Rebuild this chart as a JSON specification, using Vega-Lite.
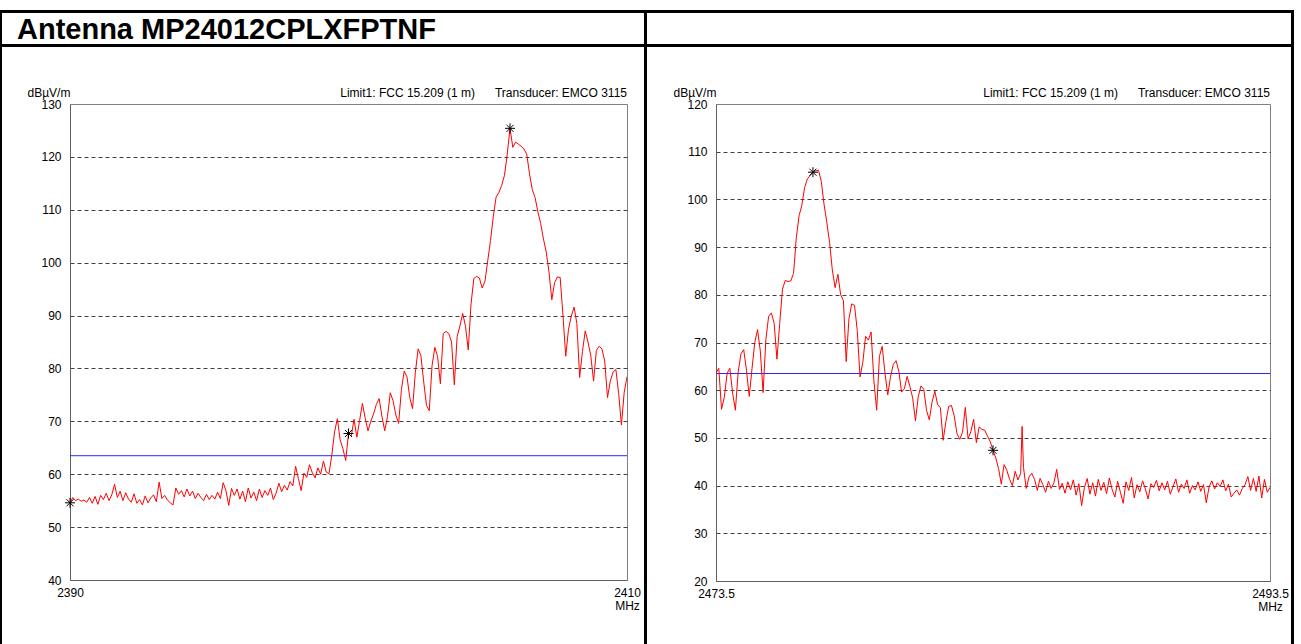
{
  "$schema": "https://vega.github.io/schema/vega-lite/v6.json",
  "background": "white",
  "padding": {"left": 0, "top": 10, "right": 0, "bottom": 0},
  "autosize": {"type": "pad"},
  "config": {
    "font": "Liberation Sans",
    "view": {"stroke": null},
    "concat": {"spacing": 0},
    "axis": {
      "labelFont": "Liberation Sans",
      "labelFontSize": 12,
      "labelColor": "#000000",
      "titleFont": "Liberation Sans",
      "titleFontSize": 12,
      "titleFontWeight": "normal",
      "titleColor": "#000000",
      "ticks": false,
      "domainColor": "#606060"
    },
    "title": {"font": "Liberation Sans", "color": "#000000"}
  },
  "datasets": {
    "limit": [{"limit": 63.5}],
    "peaksLow": [
      {"freq": 2390.0, "level": 54.6},
      {"freq": 2400.0, "level": 67.7},
      {"freq": 2405.8, "level": 125.4}
    ],
    "peaksHigh": [
      {"freq": 2477.0, "level": 105.7},
      {"freq": 2483.5, "level": 47.4}
    ],
    "scanLow": [
      {"freq": 2390.0, "level": 54.6}, {"freq": 2390.1, "level": 55.6}, {"freq": 2390.2, "level": 55.0}, {"freq": 2390.3, "level": 55.3},
      {"freq": 2390.4, "level": 54.9}, {"freq": 2390.5, "level": 55.1}, {"freq": 2390.6, "level": 54.7}, {"freq": 2390.7, "level": 55.6},
      {"freq": 2390.8, "level": 54.5}, {"freq": 2390.9, "level": 55.8}, {"freq": 2391.0, "level": 54.3}, {"freq": 2391.1, "level": 56.0},
      {"freq": 2391.2, "level": 55.2}, {"freq": 2391.3, "level": 56.4}, {"freq": 2391.4, "level": 55.0}, {"freq": 2391.5, "level": 56.1},
      {"freq": 2391.6, "level": 58.1}, {"freq": 2391.7, "level": 55.6}, {"freq": 2391.8, "level": 56.8}, {"freq": 2391.9, "level": 55.0},
      {"freq": 2392.0, "level": 56.5}, {"freq": 2392.1, "level": 55.3}, {"freq": 2392.2, "level": 54.7}, {"freq": 2392.3, "level": 56.3},
      {"freq": 2392.4, "level": 54.5}, {"freq": 2392.5, "level": 55.2}, {"freq": 2392.6, "level": 54.2}, {"freq": 2392.7, "level": 55.9},
      {"freq": 2392.8, "level": 54.6}, {"freq": 2392.9, "level": 55.5}, {"freq": 2393.0, "level": 56.1}, {"freq": 2393.1, "level": 54.8},
      {"freq": 2393.2, "level": 58.5}, {"freq": 2393.3, "level": 55.4}, {"freq": 2393.4, "level": 56.0}, {"freq": 2393.5, "level": 55.1},
      {"freq": 2393.6, "level": 54.6}, {"freq": 2393.7, "level": 54.2}, {"freq": 2393.8, "level": 57.4}, {"freq": 2393.9, "level": 56.2},
      {"freq": 2394.0, "level": 56.9}, {"freq": 2394.1, "level": 55.7}, {"freq": 2394.2, "level": 57.2}, {"freq": 2394.3, "level": 55.9},
      {"freq": 2394.4, "level": 56.8}, {"freq": 2394.5, "level": 55.4}, {"freq": 2394.6, "level": 56.4}, {"freq": 2394.7, "level": 55.6},
      {"freq": 2394.8, "level": 55.0}, {"freq": 2394.9, "level": 56.2}, {"freq": 2395.0, "level": 55.2}, {"freq": 2395.1, "level": 56.0},
      {"freq": 2395.2, "level": 55.3}, {"freq": 2395.3, "level": 56.6}, {"freq": 2395.4, "level": 55.4}, {"freq": 2395.5, "level": 58.4},
      {"freq": 2395.6, "level": 56.9}, {"freq": 2395.7, "level": 54.1}, {"freq": 2395.8, "level": 57.3}, {"freq": 2395.9, "level": 56.0},
      {"freq": 2396.0, "level": 57.2}, {"freq": 2396.1, "level": 55.3}, {"freq": 2396.2, "level": 56.8}, {"freq": 2396.3, "level": 54.8},
      {"freq": 2396.4, "level": 57.4}, {"freq": 2396.5, "level": 55.5}, {"freq": 2396.6, "level": 56.6}, {"freq": 2396.7, "level": 55.0},
      {"freq": 2396.8, "level": 57.2}, {"freq": 2396.9, "level": 55.6}, {"freq": 2397.0, "level": 56.9}, {"freq": 2397.1, "level": 56.0},
      {"freq": 2397.2, "level": 57.4}, {"freq": 2397.3, "level": 55.2}, {"freq": 2397.4, "level": 56.4}, {"freq": 2397.5, "level": 58.3},
      {"freq": 2397.6, "level": 56.7}, {"freq": 2397.7, "level": 57.9}, {"freq": 2397.8, "level": 57.0}, {"freq": 2397.9, "level": 58.6},
      {"freq": 2398.0, "level": 57.8}, {"freq": 2398.1, "level": 61.5}, {"freq": 2398.2, "level": 59.2}, {"freq": 2398.3, "level": 56.9},
      {"freq": 2398.4, "level": 60.2}, {"freq": 2398.5, "level": 59.4}, {"freq": 2398.6, "level": 61.8}, {"freq": 2398.7, "level": 60.3},
      {"freq": 2398.8, "level": 59.3}, {"freq": 2398.9, "level": 61.2}, {"freq": 2399.0, "level": 60.0}, {"freq": 2399.1, "level": 62.5},
      {"freq": 2399.2, "level": 60.4}, {"freq": 2399.3, "level": 60.1}, {"freq": 2399.4, "level": 63.6}, {"freq": 2399.5, "level": 68.0},
      {"freq": 2399.6, "level": 70.5}, {"freq": 2399.7, "level": 66.5}, {"freq": 2399.8, "level": 64.8}, {"freq": 2399.9, "level": 62.6},
      {"freq": 2400.0, "level": 67.7}, {"freq": 2400.1, "level": 67.2}, {"freq": 2400.2, "level": 70.4}, {"freq": 2400.3, "level": 67.0},
      {"freq": 2400.4, "level": 70.2}, {"freq": 2400.5, "level": 73.4}, {"freq": 2400.6, "level": 70.6}, {"freq": 2400.7, "level": 68.2},
      {"freq": 2400.8, "level": 70.0}, {"freq": 2400.9, "level": 71.4}, {"freq": 2401.0, "level": 73.2}, {"freq": 2401.1, "level": 74.3},
      {"freq": 2401.2, "level": 71.0}, {"freq": 2401.3, "level": 68.2}, {"freq": 2401.4, "level": 70.9}, {"freq": 2401.5, "level": 75.4},
      {"freq": 2401.6, "level": 73.9}, {"freq": 2401.7, "level": 71.2}, {"freq": 2401.8, "level": 69.6}, {"freq": 2401.9, "level": 76.0},
      {"freq": 2402.0, "level": 79.5}, {"freq": 2402.1, "level": 78.4}, {"freq": 2402.2, "level": 74.5}, {"freq": 2402.3, "level": 72.4},
      {"freq": 2402.4, "level": 79.2}, {"freq": 2402.5, "level": 83.7}, {"freq": 2402.6, "level": 82.4}, {"freq": 2402.7, "level": 77.5},
      {"freq": 2402.8, "level": 73.0}, {"freq": 2402.9, "level": 72.0}, {"freq": 2403.0, "level": 80.5}, {"freq": 2403.1, "level": 84.0},
      {"freq": 2403.2, "level": 82.2}, {"freq": 2403.3, "level": 77.1}, {"freq": 2403.4, "level": 86.6}, {"freq": 2403.5, "level": 87.0},
      {"freq": 2403.6, "level": 86.6}, {"freq": 2403.7, "level": 85.0}, {"freq": 2403.8, "level": 76.9}, {"freq": 2403.9, "level": 86.0},
      {"freq": 2404.0, "level": 88.0}, {"freq": 2404.1, "level": 90.4}, {"freq": 2404.2, "level": 88.0}, {"freq": 2404.3, "level": 83.5},
      {"freq": 2404.4, "level": 92.2}, {"freq": 2404.5, "level": 97.0}, {"freq": 2404.6, "level": 97.4}, {"freq": 2404.7, "level": 97.1},
      {"freq": 2404.8, "level": 95.2}, {"freq": 2404.9, "level": 96.5}, {"freq": 2405.0, "level": 100.4}, {"freq": 2405.1, "level": 104.2},
      {"freq": 2405.2, "level": 108.8}, {"freq": 2405.3, "level": 112.4}, {"freq": 2405.4, "level": 113.3}, {"freq": 2405.5, "level": 114.6},
      {"freq": 2405.6, "level": 116.5}, {"freq": 2405.7, "level": 120.5}, {"freq": 2405.8, "level": 125.4}, {"freq": 2405.9, "level": 121.8},
      {"freq": 2406.0, "level": 122.8}, {"freq": 2406.1, "level": 122.4}, {"freq": 2406.2, "level": 122.0}, {"freq": 2406.3, "level": 121.5},
      {"freq": 2406.4, "level": 120.5}, {"freq": 2406.5, "level": 116.8}, {"freq": 2406.6, "level": 113.8}, {"freq": 2406.7, "level": 112.3},
      {"freq": 2406.8, "level": 109.6}, {"freq": 2406.9, "level": 107.4}, {"freq": 2407.0, "level": 104.5}, {"freq": 2407.1, "level": 102.0},
      {"freq": 2407.2, "level": 98.2}, {"freq": 2407.3, "level": 93.0}, {"freq": 2407.4, "level": 96.2}, {"freq": 2407.5, "level": 97.3},
      {"freq": 2407.6, "level": 97.2}, {"freq": 2407.7, "level": 90.1}, {"freq": 2407.8, "level": 82.3}, {"freq": 2407.9, "level": 87.4},
      {"freq": 2408.0, "level": 89.9}, {"freq": 2408.1, "level": 91.6}, {"freq": 2408.2, "level": 88.5}, {"freq": 2408.3, "level": 78.3},
      {"freq": 2408.4, "level": 83.2}, {"freq": 2408.5, "level": 87.1}, {"freq": 2408.6, "level": 85.0}, {"freq": 2408.7, "level": 82.4},
      {"freq": 2408.8, "level": 77.6}, {"freq": 2408.9, "level": 83.4}, {"freq": 2409.0, "level": 84.2}, {"freq": 2409.1, "level": 83.7},
      {"freq": 2409.2, "level": 81.4}, {"freq": 2409.3, "level": 74.5}, {"freq": 2409.4, "level": 77.6}, {"freq": 2409.5, "level": 79.3},
      {"freq": 2409.6, "level": 79.8}, {"freq": 2409.7, "level": 75.3}, {"freq": 2409.8, "level": 69.3}, {"freq": 2409.9, "level": 75.5},
      {"freq": 2410.0, "level": 78.4}
    ],
    "scanHigh": [
      {"freq": 2473.5, "level": 63.6}, {"freq": 2473.6, "level": 64.6}, {"freq": 2473.7, "level": 56.0}, {"freq": 2473.8, "level": 58.5},
      {"freq": 2473.9, "level": 63.5}, {"freq": 2474.0, "level": 64.6}, {"freq": 2474.1, "level": 59.4}, {"freq": 2474.2, "level": 55.8},
      {"freq": 2474.3, "level": 63.8}, {"freq": 2474.4, "level": 67.6}, {"freq": 2474.5, "level": 68.5}, {"freq": 2474.6, "level": 64.2},
      {"freq": 2474.7, "level": 58.7}, {"freq": 2474.8, "level": 64.5}, {"freq": 2474.9, "level": 70.0}, {"freq": 2475.0, "level": 72.7},
      {"freq": 2475.1, "level": 68.2}, {"freq": 2475.2, "level": 59.5}, {"freq": 2475.3, "level": 70.6}, {"freq": 2475.4, "level": 75.5},
      {"freq": 2475.5, "level": 76.2}, {"freq": 2475.6, "level": 74.0}, {"freq": 2475.7, "level": 66.5}, {"freq": 2475.8, "level": 74.0},
      {"freq": 2475.9, "level": 81.2}, {"freq": 2476.0, "level": 83.0}, {"freq": 2476.1, "level": 82.8}, {"freq": 2476.2, "level": 82.9},
      {"freq": 2476.3, "level": 84.5}, {"freq": 2476.4, "level": 92.0}, {"freq": 2476.5, "level": 96.6}, {"freq": 2476.6, "level": 98.8},
      {"freq": 2476.7, "level": 102.5}, {"freq": 2476.8, "level": 104.3}, {"freq": 2476.9, "level": 105.0}, {"freq": 2477.0, "level": 105.7},
      {"freq": 2477.1, "level": 106.0}, {"freq": 2477.2, "level": 106.1}, {"freq": 2477.3, "level": 103.8}, {"freq": 2477.4, "level": 99.0},
      {"freq": 2477.5, "level": 95.2}, {"freq": 2477.6, "level": 91.0}, {"freq": 2477.7, "level": 85.2}, {"freq": 2477.8, "level": 81.5},
      {"freq": 2477.9, "level": 84.3}, {"freq": 2478.0, "level": 80.0}, {"freq": 2478.1, "level": 78.8}, {"freq": 2478.2, "level": 66.0},
      {"freq": 2478.3, "level": 75.0}, {"freq": 2478.4, "level": 78.1}, {"freq": 2478.5, "level": 77.8}, {"freq": 2478.6, "level": 72.5},
      {"freq": 2478.7, "level": 62.8}, {"freq": 2478.8, "level": 65.8}, {"freq": 2478.9, "level": 71.3}, {"freq": 2479.0, "level": 70.5},
      {"freq": 2479.1, "level": 72.2}, {"freq": 2479.2, "level": 62.0}, {"freq": 2479.3, "level": 55.8}, {"freq": 2479.4, "level": 67.1},
      {"freq": 2479.5, "level": 69.2}, {"freq": 2479.6, "level": 63.6}, {"freq": 2479.7, "level": 59.0}, {"freq": 2479.8, "level": 62.8},
      {"freq": 2479.9, "level": 65.4}, {"freq": 2480.0, "level": 66.2}, {"freq": 2480.1, "level": 64.0}, {"freq": 2480.2, "level": 59.6},
      {"freq": 2480.3, "level": 60.3}, {"freq": 2480.4, "level": 62.9}, {"freq": 2480.5, "level": 60.8}, {"freq": 2480.6, "level": 58.4},
      {"freq": 2480.7, "level": 53.6}, {"freq": 2480.8, "level": 58.6}, {"freq": 2480.9, "level": 60.9}, {"freq": 2481.0, "level": 60.2},
      {"freq": 2481.1, "level": 55.8}, {"freq": 2481.2, "level": 53.8}, {"freq": 2481.3, "level": 57.5}, {"freq": 2481.4, "level": 59.8},
      {"freq": 2481.5, "level": 57.0}, {"freq": 2481.6, "level": 56.3}, {"freq": 2481.7, "level": 49.5}, {"freq": 2481.8, "level": 53.4},
      {"freq": 2481.9, "level": 56.6}, {"freq": 2482.0, "level": 56.8}, {"freq": 2482.1, "level": 54.6}, {"freq": 2482.2, "level": 50.9},
      {"freq": 2482.3, "level": 49.7}, {"freq": 2482.4, "level": 51.2}, {"freq": 2482.5, "level": 56.4}, {"freq": 2482.6, "level": 49.8},
      {"freq": 2482.7, "level": 51.3}, {"freq": 2482.8, "level": 53.9}, {"freq": 2482.9, "level": 49.0}, {"freq": 2483.0, "level": 52.3},
      {"freq": 2483.1, "level": 51.8}, {"freq": 2483.2, "level": 51.6}, {"freq": 2483.3, "level": 50.4}, {"freq": 2483.4, "level": 49.2},
      {"freq": 2483.5, "level": 47.4}, {"freq": 2483.6, "level": 45.8}, {"freq": 2483.7, "level": 43.6}, {"freq": 2483.8, "level": 40.3},
      {"freq": 2483.9, "level": 44.4}, {"freq": 2484.0, "level": 43.2}, {"freq": 2484.1, "level": 41.3}, {"freq": 2484.2, "level": 40.0},
      {"freq": 2484.3, "level": 43.0}, {"freq": 2484.4, "level": 41.2}, {"freq": 2484.5, "level": 42.6}, {"freq": 2484.55, "level": 52.4},
      {"freq": 2484.6, "level": 43.8}, {"freq": 2484.7, "level": 39.4}, {"freq": 2484.8, "level": 41.8}, {"freq": 2484.9, "level": 42.6},
      {"freq": 2485.0, "level": 41.3}, {"freq": 2485.1, "level": 39.0}, {"freq": 2485.2, "level": 41.5}, {"freq": 2485.3, "level": 40.2},
      {"freq": 2485.4, "level": 38.6}, {"freq": 2485.5, "level": 40.9}, {"freq": 2485.6, "level": 39.4}, {"freq": 2485.7, "level": 40.6},
      {"freq": 2485.8, "level": 43.4}, {"freq": 2485.9, "level": 39.2}, {"freq": 2486.0, "level": 40.5}, {"freq": 2486.1, "level": 38.4},
      {"freq": 2486.2, "level": 40.8}, {"freq": 2486.3, "level": 39.1}, {"freq": 2486.4, "level": 41.2}, {"freq": 2486.5, "level": 38.0},
      {"freq": 2486.6, "level": 40.4}, {"freq": 2486.7, "level": 35.8}, {"freq": 2486.8, "level": 39.6}, {"freq": 2486.9, "level": 41.5},
      {"freq": 2487.0, "level": 38.2}, {"freq": 2487.1, "level": 40.6}, {"freq": 2487.2, "level": 37.8}, {"freq": 2487.3, "level": 41.3},
      {"freq": 2487.4, "level": 39.0}, {"freq": 2487.5, "level": 40.7}, {"freq": 2487.6, "level": 38.3}, {"freq": 2487.7, "level": 41.6},
      {"freq": 2487.8, "level": 39.2}, {"freq": 2487.9, "level": 37.6}, {"freq": 2488.0, "level": 40.9}, {"freq": 2488.1, "level": 38.6},
      {"freq": 2488.2, "level": 36.3}, {"freq": 2488.3, "level": 40.8}, {"freq": 2488.4, "level": 39.0}, {"freq": 2488.5, "level": 41.7},
      {"freq": 2488.6, "level": 37.4}, {"freq": 2488.7, "level": 40.2}, {"freq": 2488.8, "level": 38.7}, {"freq": 2488.9, "level": 41.0},
      {"freq": 2489.0, "level": 39.3}, {"freq": 2489.1, "level": 37.2}, {"freq": 2489.2, "level": 40.4}, {"freq": 2489.3, "level": 39.6},
      {"freq": 2489.4, "level": 41.1}, {"freq": 2489.5, "level": 38.9}, {"freq": 2489.6, "level": 40.6}, {"freq": 2489.7, "level": 39.1},
      {"freq": 2489.8, "level": 40.9}, {"freq": 2489.9, "level": 38.2}, {"freq": 2490.0, "level": 39.8}, {"freq": 2490.1, "level": 41.4},
      {"freq": 2490.2, "level": 38.6}, {"freq": 2490.3, "level": 40.3}, {"freq": 2490.4, "level": 39.4}, {"freq": 2490.5, "level": 41.2},
      {"freq": 2490.6, "level": 38.4}, {"freq": 2490.7, "level": 40.0}, {"freq": 2490.8, "level": 39.1}, {"freq": 2490.9, "level": 40.8},
      {"freq": 2491.0, "level": 38.8}, {"freq": 2491.1, "level": 40.2}, {"freq": 2491.2, "level": 36.4}, {"freq": 2491.3, "level": 39.7},
      {"freq": 2491.4, "level": 41.0}, {"freq": 2491.5, "level": 39.3}, {"freq": 2491.6, "level": 40.6}, {"freq": 2491.7, "level": 39.8},
      {"freq": 2491.8, "level": 41.2}, {"freq": 2491.9, "level": 38.9}, {"freq": 2492.0, "level": 40.3}, {"freq": 2492.1, "level": 37.6},
      {"freq": 2492.2, "level": 38.4}, {"freq": 2492.3, "level": 39.1}, {"freq": 2492.4, "level": 38.0}, {"freq": 2492.5, "level": 39.4},
      {"freq": 2492.6, "level": 40.2}, {"freq": 2492.7, "level": 41.9}, {"freq": 2492.8, "level": 39.0}, {"freq": 2492.9, "level": 41.5},
      {"freq": 2493.0, "level": 38.8}, {"freq": 2493.1, "level": 42.0}, {"freq": 2493.2, "level": 37.4}, {"freq": 2493.3, "level": 41.3},
      {"freq": 2493.4, "level": 38.6}, {"freq": 2493.5, "level": 39.6}
    ]
  },
  "bounds": "flush",
  "align": "each",
  "spacing": 0,
  "columns": 9,
  "concat": [
    {"width": 2, "height": 3, "data": {"values": []}, "mark": "point", "view": {"fill": "black"}},
    {"width": 68, "height": 3, "data": {"values": []}, "mark": "point", "view": {"fill": "black"}},
    {"width": 557, "height": 3, "data": {"values": []}, "mark": "point", "view": {"fill": "black"}},
    {"width": 17, "height": 3, "data": {"values": []}, "mark": "point", "view": {"fill": "black"}},
    {"width": 3, "height": 3, "data": {"values": []}, "mark": "point", "view": {"fill": "black"}},
    {"width": 69, "height": 3, "data": {"values": []}, "mark": "point", "view": {"fill": "black"}},
    {"width": 554, "height": 3, "data": {"values": []}, "mark": "point", "view": {"fill": "black"}},
    {"width": 21, "height": 3, "data": {"values": []}, "mark": "point", "view": {"fill": "black"}},
    {"width": 3, "height": 3, "data": {"values": []}, "mark": "point", "view": {"fill": "black"}},

    {"width": 2, "height": 31, "data": {"values": []}, "mark": "point", "view": {"fill": "black"}},
    {
      "width": 68, "height": 31, "data": {"values": []}, "mark": "point",
      "title": {"text": "Antenna MP24012CPLXFPTNF", "anchor": "start", "frame": "group", "fontSize": 29, "fontWeight": "bold", "baseline": "alphabetic", "offset": -26, "dx": 15, "dy": 29}
    },
    {"width": 557, "height": 31, "data": {"values": []}, "mark": "point"},
    {"width": 17, "height": 31, "data": {"values": []}, "mark": "point"},
    {"width": 3, "height": 31, "data": {"values": []}, "mark": "point", "view": {"fill": "black"}},
    {"width": 69, "height": 31, "data": {"values": []}, "mark": "point"},
    {"width": 554, "height": 31, "data": {"values": []}, "mark": "point"},
    {"width": 21, "height": 31, "data": {"values": []}, "mark": "point"},
    {"width": 3, "height": 31, "data": {"values": []}, "mark": "point", "view": {"fill": "black"}},

    {"width": 2, "height": 3, "data": {"values": []}, "mark": "point", "view": {"fill": "black"}},
    {"width": 68, "height": 3, "data": {"values": []}, "mark": "point", "view": {"fill": "black"}},
    {"width": 557, "height": 3, "data": {"values": []}, "mark": "point", "view": {"fill": "black"}},
    {"width": 17, "height": 3, "data": {"values": []}, "mark": "point", "view": {"fill": "black"}},
    {"width": 3, "height": 3, "data": {"values": []}, "mark": "point", "view": {"fill": "black"}},
    {"width": 69, "height": 3, "data": {"values": []}, "mark": "point", "view": {"fill": "black"}},
    {"width": 554, "height": 3, "data": {"values": []}, "mark": "point", "view": {"fill": "black"}},
    {"width": 21, "height": 3, "data": {"values": []}, "mark": "point", "view": {"fill": "black"}},
    {"width": 3, "height": 3, "data": {"values": []}, "mark": "point", "view": {"fill": "black"}},

    {"width": 2, "height": 57, "data": {"values": []}, "mark": "point", "view": {"fill": "black"}},
    {"width": 68, "height": 57, "data": {"values": []}, "mark": "point"},
    {"width": 557, "height": 57, "data": {"values": []}, "mark": "point"},
    {"width": 17, "height": 57, "data": {"values": []}, "mark": "point"},
    {"width": 3, "height": 57, "data": {"values": []}, "mark": "point", "view": {"fill": "black"}},
    {"width": 69, "height": 57, "data": {"values": []}, "mark": "point"},
    {"width": 554, "height": 57, "data": {"values": []}, "mark": "point"},
    {"width": 21, "height": 57, "data": {"values": []}, "mark": "point"},
    {"width": 3, "height": 57, "data": {"values": []}, "mark": "point", "view": {"fill": "black"}},

    {"width": 2, "height": 477, "data": {"values": []}, "mark": "point", "view": {"fill": "black"}},
    {"width": 68, "height": 477, "data": {"values": []}, "mark": "point"},
    {
      "width": 557,
      "height": 476,
      "view": {"stroke": "#808080", "strokeWidth": 1},
      "title": {"text": "Limit1: FCC 15.209 (1\u00a0m)\u00a0\u00a0\u00a0\u00a0\u00a0\u00a0Transducer: EMCO 3115", "anchor": "end", "frame": "group", "fontSize": 12, "fontWeight": "normal", "baseline": "alphabetic", "offset": 8, "dy": 31},
      "layer": [
        {
          "data": {"name": "limit"},
          "mark": {"type": "rule", "color": "#2828ff", "strokeWidth": 1},
          "encoding": {
            "y": {"field": "limit", "type": "quantitative", "scale": {"domain": [40, 130], "nice": false, "zero": false}}
          }
        },
        {
          "data": {"name": "scanLow"},
          "mark": {"type": "line", "color": "#ff0000", "strokeWidth": 1, "clip": true},
          "encoding": {
            "x": {
              "field": "freq", "type": "quantitative",
              "scale": {"domain": [2390, 2410], "nice": false, "zero": false},
              "axis": {"values": [2390, 2410], "format": "d", "grid": false, "labelFlush": false, "labelPadding": 7, "title": "MHz", "titleX": 557, "titleY": 20, "titleAlign": "center", "titleBaseline": "top"}
            },
            "y": {
              "field": "level", "type": "quantitative",
              "scale": {"domain": [40, 130], "nice": false, "zero": false},
              "axis": {
                "values": [40, 50, 60, 70, 80, 90, 100, 110, 120, 130],
                "grid": true, "gridDash": [4, 3], "gridColor": "#404040",
                "gridOpacity": {"condition": {"test": "datum.value == 40 || datum.value == 130", "value": 0}, "value": 1},
                "labelPadding": 9,
                "title": "dBµV/m", "titleAngle": 0, "titleAlign": "left", "titleBaseline": "alphabetic", "titleX": -43, "titleY": -8
              }
            }
          }
        },
        {
          "data": {"name": "peaksLow"},
          "mark": {"type": "point", "shape": "M0,-1V1M-1,0H1M-0.7,-0.7L0.7,0.7M-0.7,0.7L0.7,-0.7", "size": 100, "stroke": "#000000", "strokeWidth": 1, "filled": false, "opacity": 1, "clip": false},
          "encoding": {
            "x": {"field": "freq", "type": "quantitative"},
            "y": {"field": "level", "type": "quantitative"}
          }
        }
      ]
    },
    {"width": 17, "height": 477, "data": {"values": []}, "mark": "point"},
    {"width": 3, "height": 477, "data": {"values": []}, "mark": "point", "view": {"fill": "black"}},
    {"width": 69, "height": 477, "data": {"values": []}, "mark": "point"},
    {
      "width": 554,
      "height": 477,
      "view": {"stroke": "#808080", "strokeWidth": 1},
      "title": {"text": "Limit1: FCC 15.209 (1\u00a0m)\u00a0\u00a0\u00a0\u00a0\u00a0\u00a0Transducer: EMCO 3115", "anchor": "end", "frame": "group", "fontSize": 12, "fontWeight": "normal", "baseline": "alphabetic", "offset": 8, "dy": 31},
      "layer": [
        {
          "data": {"name": "limit"},
          "mark": {"type": "rule", "color": "#2828ff", "strokeWidth": 1},
          "encoding": {
            "y": {"field": "limit", "type": "quantitative", "scale": {"domain": [20, 120], "nice": false, "zero": false}}
          }
        },
        {
          "data": {"name": "scanHigh"},
          "mark": {"type": "line", "color": "#ff0000", "strokeWidth": 1, "clip": true},
          "encoding": {
            "x": {
              "field": "freq", "type": "quantitative",
              "scale": {"domain": [2473.5, 2493.5], "nice": false, "zero": false},
              "axis": {"values": [2473.5, 2493.5], "format": ".1f", "grid": false, "labelFlush": false, "labelPadding": 7, "title": "MHz", "titleX": 554, "titleY": 20, "titleAlign": "center", "titleBaseline": "top"}
            },
            "y": {
              "field": "level", "type": "quantitative",
              "scale": {"domain": [20, 120], "nice": false, "zero": false},
              "axis": {
                "values": [20, 30, 40, 50, 60, 70, 80, 90, 100, 110, 120],
                "grid": true, "gridDash": [4, 3], "gridColor": "#404040",
                "gridOpacity": {"condition": {"test": "datum.value == 20 || datum.value == 120", "value": 0}, "value": 1},
                "labelPadding": 9,
                "title": "dBµV/m", "titleAngle": 0, "titleAlign": "left", "titleBaseline": "alphabetic", "titleX": -43, "titleY": -8
              }
            }
          }
        },
        {
          "data": {"name": "peaksHigh"},
          "mark": {"type": "point", "shape": "M0,-1V1M-1,0H1M-0.7,-0.7L0.7,0.7M-0.7,0.7L0.7,-0.7", "size": 100, "stroke": "#000000", "strokeWidth": 1, "filled": false, "opacity": 1, "clip": false},
          "encoding": {
            "x": {"field": "freq", "type": "quantitative"},
            "y": {"field": "level", "type": "quantitative"}
          }
        }
      ]
    },
    {"width": 21, "height": 477, "data": {"values": []}, "mark": "point"},
    {"width": 3, "height": 477, "data": {"values": []}, "mark": "point", "view": {"fill": "black"}},

    {"width": 2, "height": 63, "data": {"values": []}, "mark": "point", "view": {"fill": "black"}},
    {"width": 68, "height": 63, "data": {"values": []}, "mark": "point"},
    {"width": 557, "height": 63, "data": {"values": []}, "mark": "point"},
    {"width": 17, "height": 63, "data": {"values": []}, "mark": "point"},
    {"width": 3, "height": 63, "data": {"values": []}, "mark": "point", "view": {"fill": "black"}},
    {"width": 69, "height": 63, "data": {"values": []}, "mark": "point"},
    {"width": 554, "height": 63, "data": {"values": []}, "mark": "point"},
    {"width": 21, "height": 63, "data": {"values": []}, "mark": "point"},
    {"width": 3, "height": 63, "data": {"values": []}, "mark": "point", "view": {"fill": "black"}}
  ]
}
